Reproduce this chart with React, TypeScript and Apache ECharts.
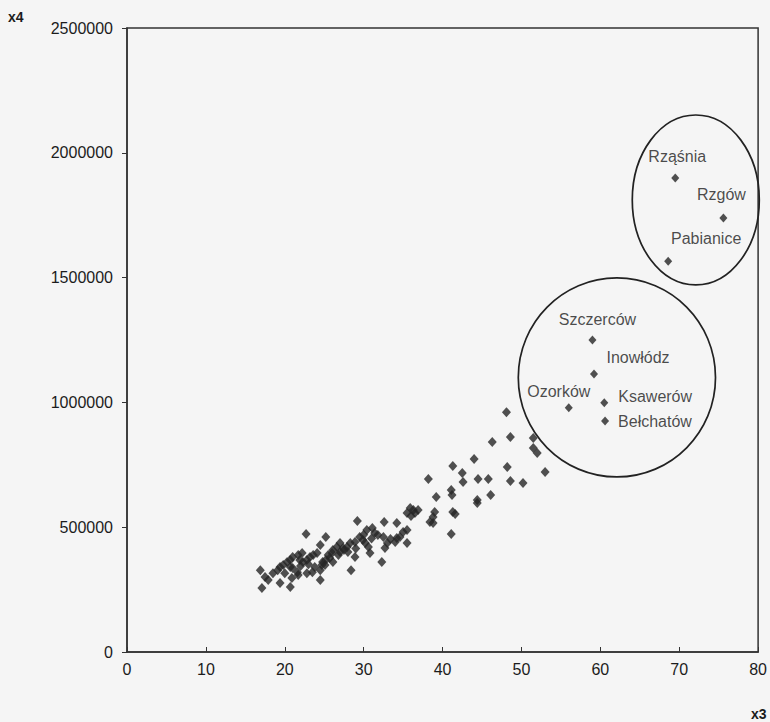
import React, { useEffect, useRef } from "react";
import * as echarts from "echarts";

// x3 / x4 values of the unlabelled municipalities
const points: [number, number][] = [
  [48.1, 961000], [48.6, 861000], [46.3, 841000], [51.5, 857000], [51.5, 817000],
  [52.0, 797000], [44.0, 773000], [41.3, 745000], [42.5, 717000], [42.6, 681000],
  [38.2, 693000], [44.5, 693000], [45.8, 693000], [48.2, 741000], [48.6, 685000],
  [50.2, 677000], [53.0, 721000], [39.2, 621000], [41.1, 649000], [41.2, 629000],
  [44.4, 609000], [44.4, 597000], [46.1, 629000], [41.3, 561000], [41.6, 553000],
  [39.0, 561000], [38.8, 541000], [38.4, 521000], [38.8, 517000], [41.1, 473000],
  [35.9, 577000], [36.3, 569000], [36.5, 557000], [36.9, 569000], [35.5, 557000],
  [29.2, 525000], [32.6, 521000], [34.2, 517000], [22.7, 473000], [25.2, 461000],
  [24.5, 429000], [30.4, 489000], [31.1, 497000], [31.4, 477000], [31.8, 469000],
  [32.5, 461000], [33.0, 437000], [32.7, 417000], [34.2, 457000], [34.6, 461000],
  [35.0, 481000], [35.5, 489000], [34.0, 441000], [35.5, 437000], [29.5, 461000],
  [29.9, 449000], [30.2, 437000], [30.6, 421000], [30.8, 397000], [28.9, 441000],
  [28.3, 437000], [27.9, 421000], [28.0, 401000], [28.9, 381000], [28.4, 328000],
  [32.3, 361000], [27.0, 437000], [26.6, 421000], [26.1, 409000], [26.0, 397000],
  [25.5, 389000], [25.7, 377000], [25.2, 369000], [24.8, 361000], [24.7, 349000],
  [24.5, 328000], [24.5, 288000], [24.1, 397000], [23.6, 389000], [23.2, 381000],
  [22.8, 369000], [22.3, 361000], [21.9, 369000], [21.7, 389000], [22.2, 397000],
  [21.0, 381000], [20.7, 369000], [20.3, 361000], [19.8, 349000], [19.4, 341000],
  [19.1, 328000], [20.7, 341000], [21.0, 337000], [21.6, 320000], [21.7, 308000],
  [20.9, 296000], [20.7, 260000], [19.4, 276000], [22.8, 316000], [23.5, 320000],
  [23.8, 341000], [25.1, 349000], [26.1, 361000], [27.0, 401000], [27.4, 417000],
  [16.9, 328000], [17.5, 300000], [17.9, 288000], [17.1, 256000], [18.5, 316000],
  [20.0, 316000], [33.4, 453000], [31.0, 455000], [27.5, 409000], [23.0, 352000],
  [26.8, 389000], [30.0, 470000], [36.0, 545000], [22.0, 345000], [29.0, 415000],
];

// labelled municipalities
const namedLabels = ["Rząśnia", "Rzgów", "Pabianice", "Szczerców", "Inowłódz", "Ozorków", "Ksawerów", "Bełchatów"];
const namedX = [69.5, 75.6, 68.6, 59.0, 59.2, 56.0, 60.5, 60.6];
const namedY = [1899000, 1739000, 1566000, 1250000, 1114000, 979000, 999000, 925000];

// ellipses (data units): centre x, centre y, radius x, radius y
const ellipses: [number, number, number, number][] = [
  [72.1, 1811000, 8.05, 340500],
  [62.1, 1100000, 12.5, 398600],
];

const xTicks = { min: 0, max: 80, interval: 10 };
const yTicks = { min: 0, max: 2500000, interval: 500000 };

// label placement per named point: [position, dx, dy]
const labelPlace: [string, number, number][] = [
  ["top", 2, -3],
  ["top", -2, -5],
  ["top", 38, -4],
  ["top", 5, -2],
  ["top", 44, 2],
  ["top", -10, 2],
  ["right", 4, -6],
  ["right", 3, 0],
];

const FONT = "'Liberation Sans', Arial, sans-serif";
const INK = "#1c1c1c";

export default function App() {
  const ref = useRef<HTMLDivElement>(null);
  useEffect(() => {
    document.body.style.margin = "0";
    const chart = echarts.init(ref.current!, null, { renderer: "svg" });
    const option: any = {
      animation: false,
      backgroundColor: "#f5f5f5",
      grid: { left: 127, right: 11, top: 28, bottom: 70, show: true, borderColor: "#333", borderWidth: 1.5 },
      xAxis: {
        type: "value",
        ...xTicks,
        axisLine: { show: true, lineStyle: { color: "#333", width: 1.5 } },
        axisTick: { show: true, inside: true, length: 5, lineStyle: { color: "#333" } },
        splitLine: { show: false },
        axisLabel: { color: INK, fontSize: 16, fontFamily: FONT, margin: 9 },
      },
      yAxis: {
        type: "value",
        ...yTicks,
        axisLine: { show: true, lineStyle: { color: "#333", width: 1.5 } },
        axisTick: { show: true, length: 5, lineStyle: { color: "#333" } },
        splitLine: { show: false },
        axisLabel: { color: INK, fontSize: 16, fontFamily: FONT, margin: 14, formatter: (v: number) => String(v) },
      },
      series: [
        {
          type: "scatter",
          symbol: "diamond",
          symbolSize: [9, 10],
          itemStyle: { color: "#262626" },
          data: points,
          z: 3,
        },
        {
          type: "scatter",
          symbol: "diamond",
          symbolSize: [8, 9],
          itemStyle: { color: "#262626" },
          data: namedLabels.map((name, i) => ({
            name,
            value: [namedX[i], namedY[i]],
            label: {
              show: true,
              formatter: name,
              position: labelPlace[i][0],
              distance: 6,
              offset: [labelPlace[i][1], labelPlace[i][2]],
              color: INK,
              fontSize: 16,
              fontFamily: FONT,
            },
          })),
          z: 4,
        },
      ],
      graphic: [
        { type: "text", left: 8, top: 10, style: { text: "x4", fontSize: 14, fontWeight: "bold", fontFamily: FONT, fill: INK } },
        { type: "text", left: 751, top: 707, style: { text: "x3", fontSize: 14, fontWeight: "bold", fontFamily: FONT, fill: INK } },
      ],
    };
    chart.setOption(option);
    const ellipseGraphics = ellipses.map(([cx, cy, rx, ry]) => {
      const c = chart.convertToPixel({ gridIndex: 0 }, [cx, cy]) as number[];
      const e = chart.convertToPixel({ gridIndex: 0 }, [cx + rx, cy + ry]) as number[];
      return {
        type: "ellipse",
        shape: { cx: c[0], cy: c[1], rx: e[0] - c[0], ry: c[1] - e[1] },
        style: { fill: "none", stroke: "#222", lineWidth: 1.7 },
        z: 10,
      };
    });
    chart.setOption({ graphic: [...option.graphic, ...ellipseGraphics] });
    return () => chart.dispose();
  }, []);
  return <div ref={ref} style={{ width: 770, height: 722 }} />;
}
